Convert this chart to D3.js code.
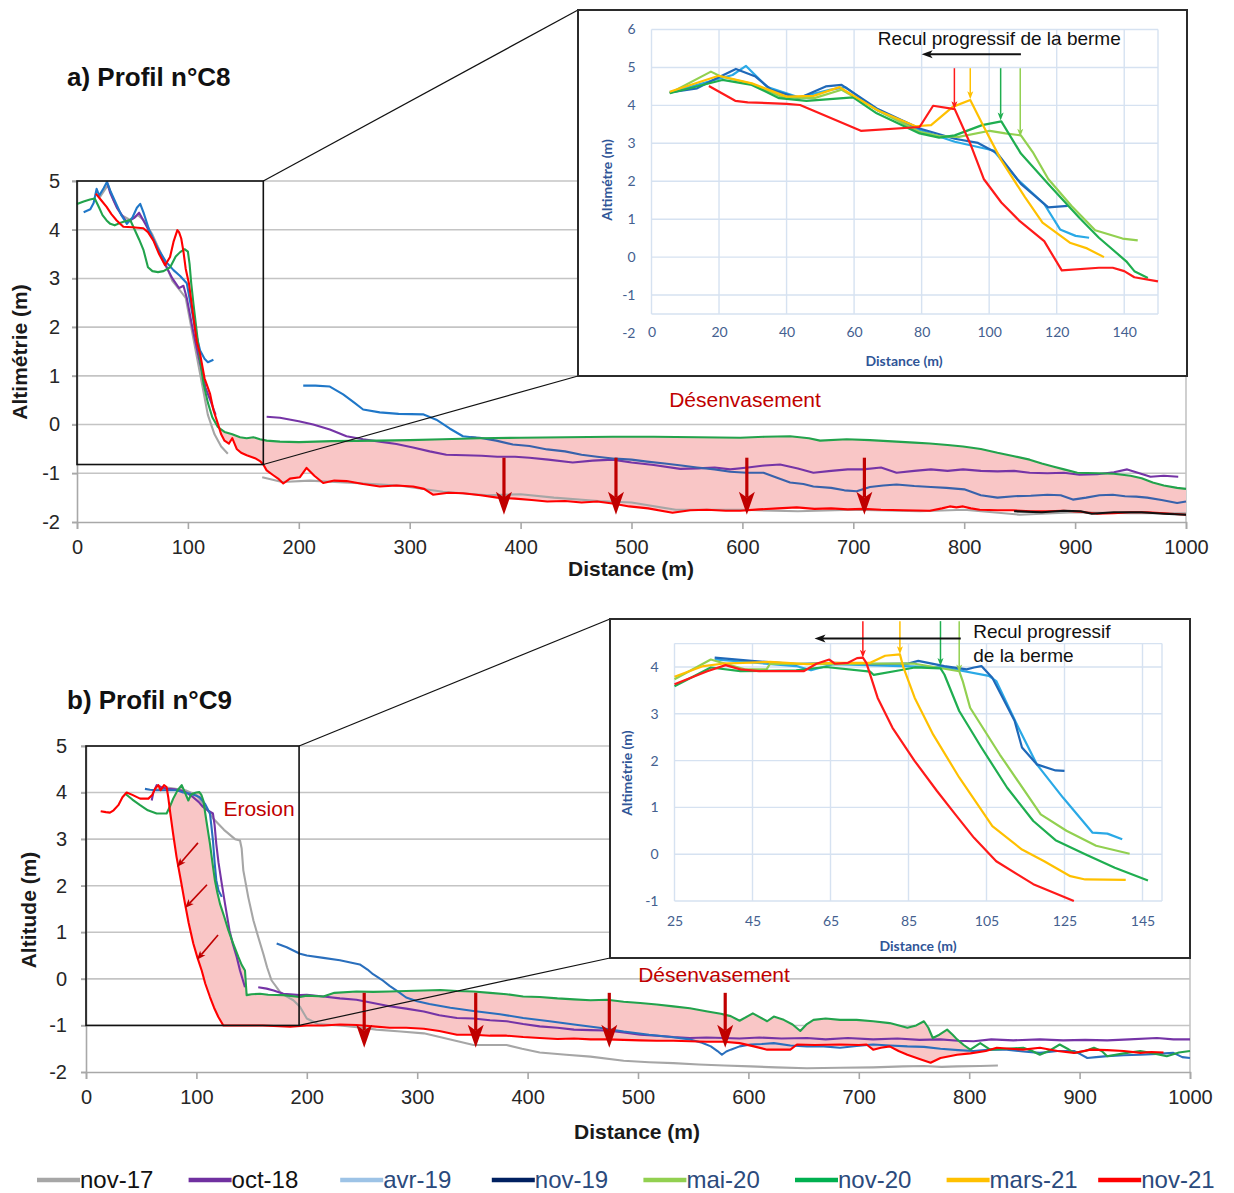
<!DOCTYPE html>
<html lang="fr">
<head>
<meta charset="UTF-8">
<title>Profils C8 et C9</title>
<style>
    body { margin: 0; background: #fff; }
    svg { display: block; font-family: "Liberation Sans", Arial, sans-serif; }
    .main-axis text { font-size: 20px; fill: #262626; }
    .inset-axis text { font-family: Lato, "Open Sans", sans-serif; font-size: 14px; fill: #44608f; }
    .axis-title { font-size: 21px; font-weight: bold; fill: #1a1a1a; }
    .inset-title { font-family: Lato, "Open Sans", sans-serif; font-size: 14px; font-weight: bold; fill: #2f5597; }
    .note { font-size: 21px; fill: #c00000; }
</style>
<script src="https://d3js.org/d3.v7.min.js"></script>
</head>
<body>
<script>
// ---------- Profil C8 : [distance (m), altitude (m)] ----------
const c8Gray = [[20,4.65],[28,4.92],[33,4.6],[40,4.3],[48,4.2],[55,4.3],[60,4.2],[68,3.9],[78,3.4],[86,2.95],[93,2.75],[98,2.6],[103,2.0],[108,1.4],[113,0.8],[118,0.2],[124,-0.2],[130,-0.45],[136,-0.6], null,
    [167,-1.08],[185,-1.18],[210,-1.15],[250,-1.2],[290,-1.25],[330,-1.38],[370,-1.45],[400,-1.43],[430,-1.5],[470,-1.57],[500,-1.6],[540,-1.75],[600,-1.75],[650,-1.78],[700,-1.75],[760,-1.78],[800,-1.75],[850,-1.85],[900,-1.8],[950,-1.82],[1000,-1.82]];
const c8Purple = [[27,4.98],[30,4.75],[36,4.45],[45,4.15],[52,4.25],[56,4.35],[62,4.1],[70,3.75],[78,3.35],[86,3.0],[92,2.8],[96,2.85],[99,2.6],[104,2.0],[110,1.35],[116,0.75],[121,0.45],[125,0.2], null,
    [171,0.16],[183,0.14],[200,0.07],[213,0.0],[228,-0.1],[243,-0.24],[258,-0.3],[273,-0.35],[288,-0.4],[303,-0.47],[318,-0.55],[333,-0.62],[350,-0.63],[365,-0.64],[379,-0.66],[395,-0.66],[408,-0.68],[425,-0.72],[447,-0.78],[465,-0.74],[483,-0.72],[500,-0.78],[520,-0.83],[544,-0.91],[560,-0.9],[575,-0.88],[589,-0.92],[605,-0.88],[620,-0.84],[634,-0.82],[650,-0.9],[664,-0.99],[680,-0.95],[695,-0.92],[709,-0.92],[725,-0.88],[739,-0.99],[755,-0.95],[770,-0.92],[785,-0.95],[799,-0.92],[815,-0.95],[830,-0.96],[845,-0.95],[859,-0.99],[875,-1.0],[890,-0.99],[904,-1.03],[920,-1.02],[935,-0.98],[947,-0.92],[958,-1.0],[968,-1.07],[980,-1.05],[993,-1.07]];
const c8Blue = [[6,4.36],[12,4.42],[15,4.55],[17.7,4.84],[20,4.7],[24,4.85],[27,4.98],[30,4.8],[35,4.55],[40,4.3],[45,4.12],[50,4.25],[54,4.45],[57,4.53],[60,4.35],[65,4.0],[72,3.65],[80,3.35],[87,3.17],[93,3.05],[99,2.9],[103,2.4],[107,1.9],[111,1.52],[115,1.35],[118,1.28],[123,1.33], null,
    [204,0.8],[215,0.8],[228,0.78],[240,0.62],[250,0.45],[258,0.31],[273,0.25],[290,0.22],[312,0.21],[324,0.1],[336,-0.08],[348,-0.24],[360,-0.27]];
const c8BlueDark = [[355,-0.26],[363,-0.27],[378,-0.33],[393,-0.41],[408,-0.44],[424,-0.51],[440,-0.55],[455,-0.62],[469,-0.66],[485,-0.7],[500,-0.72],[514,-0.76],[530,-0.8],[545,-0.84],[559,-0.88],[575,-0.92],[589,-0.97],[604,-0.99],[619,-0.99],[630,-1.08],[643,-1.19],[655,-1.22],[664,-1.27],[680,-1.3],[692,-1.35],[703,-1.37],[715,-1.28],[727,-1.25],[739,-1.23],[755,-1.26],[770,-1.28],[784,-1.3],[800,-1.33],[815,-1.45],[830,-1.5],[845,-1.47],[860,-1.46],[875,-1.44],[887,-1.45],[898,-1.54],[910,-1.5],[922,-1.45],[934,-1.44],[945,-1.47],[955,-1.48],[965,-1.5],[978,-1.55],[992,-1.61],[1000,-1.58]];
const c8Green = [[0,4.53],[6,4.58],[11.7,4.62],[16,4.64],[20,4.45],[23,4.3],[26.7,4.19],[30,4.12],[34,4.09],[40,4.15],[44,4.18],[48,4.2],[52,4.0],[56,3.8],[60,3.58],[64,3.23],[68,3.15],[73,3.13],[78,3.15],[84,3.23],[89,3.45],[93,3.54],[97,3.6],[100,3.55],[101.5,3.3],[103,2.9],[105,2.48],[108,1.9],[111,1.32],[114,0.85],[118,0.45],[122,0.15],[127,-0.05],[133,-0.15],[140,-0.2],[147,-0.26],[153,-0.28],[159,-0.26],[165,-0.3],[171,-0.33],[183,-0.35],[200,-0.36],[230,-0.34],[273,-0.33],[300,-0.32],[330,-0.3],[363,-0.28],[400,-0.27],[440,-0.26],[483,-0.25],[520,-0.25],[560,-0.26],[598,-0.27],[620,-0.25],[643,-0.24],[660,-0.28],[670,-0.33],[694,-0.3],[715,-0.32],[739,-0.35],[755,-0.37],[769,-0.39],[785,-0.42],[799,-0.45],[815,-0.5],[830,-0.58],[845,-0.65],[859,-0.72],[870,-0.8],[880,-0.86],[890,-0.92],[902,-0.99],[920,-1.0],[935,-1.01],[950,-1.05],[960,-1.1],[970,-1.19],[980,-1.25],[992,-1.3],[1000,-1.32]];
const c8Red = [[17,4.74],[22,4.6],[26.7,4.47],[31,4.32],[35.8,4.19],[41.8,4.06],[50,4.05],[59.8,4.03],[64,3.95],[68.8,3.78],[74,3.5],[79.4,3.27],[83.9,3.44],[87,3.75],[90.5,3.99],[92,3.95],[94,3.82],[96,3.55],[98,3.2],[101,2.89],[105,2.2],[108,1.7],[111,1.45],[115,0.95],[120,0.63],[123,0.3],[127,0.02],[130,-0.2],[133,-0.33],[137,-0.39],[140,-0.28],[144,-0.5],[148,-0.58],[153,-0.63],[160.5,-0.69],[165,-0.75],[168,-0.82],[171,-0.94],[177,-1.04],[182,-1.12],[186,-1.21],[192,-1.11],[201,-1.08],[207,-0.89],[214,-1.05],[222,-1.2],[232,-1.15],[243,-1.16],[258,-1.22],[273,-1.27],[288,-1.25],[303,-1.27],[313,-1.32],[321,-1.44],[335,-1.4],[348,-1.41],[364,-1.45],[379,-1.5],[395,-1.52],[410,-1.55],[424,-1.58],[440,-1.57],[455,-1.6],[469,-1.58],[483,-1.62],[498,-1.68],[515,-1.72],[537,-1.81],[553,-1.76],[568,-1.75],[585,-1.77],[598,-1.77],[615,-1.74],[632,-1.72],[649,-1.7],[665,-1.73],[680,-1.72],[695,-1.74],[709,-1.73],[725,-1.75],[745,-1.76],[769,-1.77],[780,-1.72],[787,-1.68],[793,-1.7],[799,-1.68],[806,-1.72],[814,-1.75],[830,-1.76],[844,-1.76],[860,-1.78],[875,-1.78],[889,-1.77],[905,-1.79],[920,-1.83],[935,-1.82],[950,-1.8],[965,-1.8],[980,-1.82],[1000,-1.85]];
const c8Black = [[845,-1.78],[870,-1.8],[890,-1.77],[905,-1.78],[915,-1.83],[935,-1.8],[960,-1.8],[980,-1.83],[1000,-1.85]];
const c8FillRange = [127, 1000];
const c8DownArrows = [385, 486, 604, 710];
const c8DownArrowSpan = [-0.68, -1.85];
const c8ZoomBox = [168, -0.82];

// ---------- Profil C8, zoom (inset) ----------
const c8iNov19 = [[5.4,4.34],[13.5,4.45],[19,4.7],[25,4.96],[30.8,4.76],[35.5,4.41],[43.6,4.19],[51.6,4.5],[56.3,4.54],[66.7,3.92],[79.4,3.39],[89.8,3.12],[96.7,3.01],[102.5,2.73],[109.4,1.93],[117.5,1.31],[123.3,1.35]];
const c8iAvr19 = [[5.4,4.34],[17,4.63],[24,4.8],[28,5.04],[34.3,4.48],[43.6,4.21],[52.8,4.41],[57.4,4.48],[66.7,3.88],[79.4,3.35],[89.8,3.04],[101.3,2.81],[108.3,2.06],[116.3,1.4],[121,0.73],[125.6,0.56],[129.6,0.51]];
const c8iMai20 = [[5.4,4.32],[17.6,4.89],[20.5,4.76],[29.7,4.57],[39,4.21],[48.2,4.19],[56.3,4.41],[67.8,3.83],[79.4,3.3],[85.2,3.19],[91,3.17],[100.2,3.33],[104.8,3.26],[109.4,3.21],[112.9,2.77],[117.5,2.06],[124.4,1.35],[131.4,0.71],[139.5,0.49],[144,0.44]];
const c8iNov20 = [[5.4,4.32],[21,4.67],[29.7,4.54],[37.8,4.19],[45.9,4.12],[59.7,4.21],[66.7,3.79],[79.4,3.26],[85.2,3.15],[89.8,3.21],[97.9,3.48],[103.6,3.58],[109.4,2.73],[117.5,1.93],[126.7,1.04],[132.5,0.51],[140.6,-0.11],[143,-0.37],[147,-0.55]];
const c8iMars21 = [[5.4,4.36],[19.9,4.78],[29.7,4.58],[40,4.23],[48,4.25],[55.7,4.48],[66.7,3.88],[78.2,3.45],[82.8,3.48],[89.2,3.96],[94.4,4.14],[97.9,3.52],[103.6,2.55],[110.6,1.58],[115.8,0.91],[123.9,0.38],[129,0.23],[134,0.0]];
const c8iNov21 = [[17,4.51],[24.8,4.12],[28.5,4.08],[40,4.04],[44,4.01],[62,3.33],[79.4,3.43],[83.4,3.99],[89.8,3.9],[94.4,2.99],[98.4,2.06],[103.6,1.44],[108.8,0.97],[116.3,0.42],[121.5,-0.35],[132.5,-0.28],[136.6,-0.28],[140,-0.37],[143,-0.53],[150,-0.64]];
const c8iBerme = [[89.7,3.9],[94.4,4.16],[103.4,3.6],[109.2,3.17]];

// ---------- Profil C9 ----------
const c9Gray = [[60,4.05],[75,4.1],[90,4.05],[100,3.95],[108,3.7],[115,3.45],[125,3.2],[135,3.0],[139.5,2.97],[141,2.8],[142.5,2.33],[147,1.75],[151.6,1.26],[156,0.9],[160.6,0.54],[164,0.25],[168,-0.03],[175.7,-0.28],[182,-0.38],[187.8,-0.46],[193.8,-0.6],[200,-0.85],[210,-0.97],[230,-1.0],[250,-1.05],[263,-1.09],[285,-1.13],[306,-1.17],[330,-1.3],[351,-1.42],[381,-1.42],[395,-1.5],[411,-1.58],[435,-1.63],[457,-1.67],[487,-1.76],[510,-1.79],[532,-1.81],[555,-1.84],[578,-1.86],[602,-1.88],[625,-1.9],[653,-1.92],[683,-1.91],[713,-1.9],[740,-1.88],[759,-1.87],[775,-1.89],[789,-1.88],[810,-1.87],[826,-1.86]];
const c9Purple = [[59.5,3.83],[61,4.0],[64,4.16],[68,4.12],[73,4.08],[80,4.07],[85,4.05],[91,4.0],[97,3.9],[102,3.8],[106,3.69],[110,3.62],[115,3.55],[116.5,3.3],[118,2.9],[120,2.5],[123,2.04],[126,1.6],[130,1.04],[133,0.75],[136.5,0.47],[139.5,0.18],[144,-0.18], null,
    [156,-0.18],[163.6,-0.21],[170,-0.25],[178.7,-0.32],[193.8,-0.35],[200,-0.34],[215,-0.38],[230,-0.42],[245,-0.45],[260,-0.52],[275,-0.59],[290,-0.64],[306,-0.7],[320,-0.78],[336,-0.84],[351,-0.85],[366,-0.89],[381,-0.91],[396,-0.97],[411,-1.02],[427,-1.05],[442,-1.09],[457,-1.1],[472,-1.11],[487,-1.15],[502,-1.2],[517,-1.22],[532,-1.25],[547,-1.27],[562,-1.26],[578,-1.27],[592,-1.28],[610,-1.26],[630,-1.28],[653,-1.27],[670,-1.3],[690,-1.27],[713,-1.3],[735,-1.28],[755,-1.31],[774,-1.3],[790,-1.33],[804,-1.34],[820,-1.3],[840,-1.32],[864,-1.3],[885,-1.32],[905,-1.31],[925,-1.32],[945,-1.3],[970,-1.27],[985,-1.3],[1000,-1.3]];
const c9Blue = [[53.4,4.08],[58,4.06],[64,4.05],[72,4.05],[82,4.05],[88,4.0],[94,3.98],[100,3.93],[103,3.9],[108,3.75],[112.3,3.55],[113.5,3.3],[115,2.97],[116.5,2.5],[118,2.12],[120,1.9],[123,1.76], null,
    [172.7,0.76],[181.8,0.68],[193.8,0.54],[200,0.5],[215,0.45],[230,0.4],[248,0.31],[255,0.2],[260,0.1],[268,-0.02],[275,-0.15],[283,-0.28],[290,-0.4],[300,-0.48],[311,-0.54],[330,-0.62],[351,-0.69],[375,-0.76],[396,-0.84],[420,-0.91],[442,-0.98],[465,-1.05],[487,-1.13],[510,-1.2],[530,-1.25],[547,-1.3],[558,-1.37],[566,-1.45],[572,-1.55],[576,-1.63],[580,-1.56],[584,-1.52],[592,-1.45],[602,-1.41],[612,-1.4],[623,-1.38],[638,-1.43],[653,-1.45],[668,-1.45],[683,-1.48],[698,-1.44],[713,-1.41],[728,-1.43],[744,-1.45],[759,-1.46],[774,-1.5],[790,-1.53],[804,-1.55],[819,-1.52],[834,-1.52],[849,-1.56],[864,-1.59],[880,-1.55],[895,-1.55],[901,-1.62],[907,-1.7],[915,-1.68],[925,-1.66],[940,-1.64],[955,-1.63],[970,-1.61],[985,-1.59],[993,-1.68],[1000,-1.7]];
const c9Green = [[35.3,3.98],[42,3.85],[49,3.73],[56,3.62],[64,3.55],[73,3.55],[76,3.7],[79,3.87],[83,4.05],[86.7,4.16],[90,3.98],[92.7,3.83],[95,3.95],[97,3.98],[100,4.0],[102.7,4.01],[104.5,3.95],[106.3,3.83],[109,3.4],[112.3,2.9],[114.5,2.5],[116.8,2.11],[119,1.85],[121.4,1.61],[125,1.35],[129,1.04],[133,0.78],[138,0.47],[141,0.3],[144,0.18],[145.5,-0.35],[150,-0.33],[157.6,-0.32],[165,-0.34],[178.7,-0.35],[193.8,-0.39],[200,-0.36],[215,-0.38],[225,-0.3],[245,-0.27],[260,-0.28],[275,-0.27],[290,-0.26],[306,-0.25],[321,-0.24],[336,-0.26],[351,-0.27],[366,-0.3],[381,-0.33],[396,-0.38],[411,-0.39],[427,-0.42],[442,-0.44],[457,-0.46],[472,-0.45],[487,-0.49],[502,-0.52],[517,-0.55],[532,-0.59],[547,-0.63],[563,-0.7],[575,-0.75],[584,-0.8],[592,-0.9],[604,-0.74],[617,-0.91],[623,-0.81],[632,-0.88],[640,-0.98],[647,-1.12],[653,-0.97],[659,-0.88],[670,-0.85],[683,-0.88],[698,-0.88],[713,-0.91],[728,-0.95],[744,-1.05],[752,-1.0],[759,-0.91],[763,-1.05],[767,-1.27],[773,-1.2],[780,-1.09],[785,-1.2],[789,-1.3],[795,-1.42],[801,-1.52],[810,-1.38],[819,-1.52],[834,-1.5],[849,-1.48],[857,-1.55],[864,-1.63],[872,-1.55],[882,-1.41],[889,-1.5],[895,-1.59],[905,-1.55],[913,-1.48],[920,-1.55],[925,-1.66],[940,-1.6],[955,-1.55],[967,-1.6],[979,-1.66],[990,-1.58],[1000,-1.55]];
const c9Red = [[13.3,3.6],[18,3.58],[21.7,3.57],[25,3.62],[29.3,3.73],[33,3.9],[36.8,4.0],[42,3.95],[49,3.87],[56.5,3.87],[60,3.95],[62.5,4.08],[65.5,4.16],[67.6,4.05],[70.7,4.16],[73,4.12],[74.5,3.9],[76,3.62],[79,3.1],[82,2.62],[86,2.1],[89.7,1.61],[93,1.2],[97.2,0.76],[101,0.45],[104.8,0.18],[108,-0.1],[112.3,-0.39],[116,-0.62],[119.9,-0.82],[124.4,-1.0],[140,-1.0],[160,-1.0],[185,-1.03],[200,-1.0],[215,-1.0],[230,-0.98],[245,-0.99],[260,-1.02],[275,-1.05],[290,-1.05],[306,-1.07],[320,-1.12],[336,-1.2],[351,-1.2],[366,-1.22],[381,-1.22],[396,-1.25],[411,-1.27],[427,-1.29],[442,-1.28],[457,-1.3],[472,-1.3],[487,-1.31],[502,-1.32],[517,-1.33],[532,-1.33],[547,-1.34],[562,-1.35],[578,-1.35],[592,-1.38],[605,-1.45],[617,-1.52],[638,-1.52],[644,-1.41],[660,-1.42],[683,-1.41],[700,-1.42],[707,-1.41],[713,-1.52],[720,-1.48],[728,-1.45],[736,-1.55],[744,-1.63],[755,-1.72],[765,-1.8],[774,-1.7],[789,-1.63],[801,-1.6],[815,-1.55],[825,-1.48],[837,-1.5],[849,-1.52],[864,-1.48],[880,-1.55],[895,-1.59],[910,-1.52],[925,-1.53],[940,-1.55],[955,-1.59],[965,-1.57],[976,-1.58]];
const c9FillRange = [76, 801];
const c9DownArrows = [252, 353, 474, 579];
const c9DownArrowSpan = [-0.3, -1.48];
const c9ErosionArrows = [[[101.4,2.92],[82.4,2.4]], [[109.6,2.02],[89.7,1.52]], [[119.6,0.94],[100.5,0.41]]];
const c9ZoomBox = [193, -1.0];

// ---------- Profil C9, zoom (inset) ----------
const c9iNov19 = [[35.3,4.2],[44.8,4.13],[56.2,4.06],[65.7,4.09],[75.2,4.06],[84.7,4.07],[87.5,4.13],[94.2,4.02],[99.9,3.95],[101.8,3.99],[103.7,4.02],[106.5,3.77],[112.2,2.85],[114.1,2.28],[117.9,1.92],[122.7,1.79],[125,1.78]];
const c9iAvr19 = [[35.3,4.16],[56.2,4.02],[60,3.93],[65.7,4.06],[94.2,3.99],[105.6,3.81],[107.5,3.7],[113.2,2.7],[117.9,1.92],[124.6,1.21],[132.2,0.46],[136,0.44],[139.8,0.32]];
const c9iMai20 = [[25,3.74],[34.3,4.16],[43,3.95],[48.6,3.95],[49.5,4.07],[65.7,4.06],[75.2,4.07],[86.6,4.07],[98,3.91],[98.9,3.7],[100.8,3.13],[108.4,2.13],[118.9,0.85],[125.5,0.5],[133.1,0.18],[141.7,0.01]];
const c9iNov20 = [[25,3.59],[34.3,3.99],[41.9,3.91],[56.2,3.93],[63.8,4.0],[75.2,3.9],[76.1,3.83],[82.8,3.93],[86.6,3.99],[93.2,3.97],[94.2,3.84],[98,3.06],[103.7,2.28],[110.3,1.42],[117,0.71],[122.7,0.3],[130.3,0.0],[137.9,-0.29],[146.4,-0.56]];
const c9iMars21 = [[25,3.79],[32.4,4.02],[37.2,4.07],[49.5,4.11],[59,4.06],[65.7,4.09],[75.2,4.09],[79,4.24],[82.8,4.27],[83.7,3.99],[86.6,3.34],[91.3,2.56],[98,1.64],[106.5,0.6],[114.1,0.1],[119.8,-0.15],[126.5,-0.47],[130.3,-0.54],[140.7,-0.55]];
const c9iNov21 = [[25,3.63],[33.4,3.91],[38.1,4.04],[41.9,3.95],[46.7,3.91],[58.1,3.91],[61.4,4.07],[64.7,4.16],[66.1,4.07],[69.5,4.09],[71.8,4.19],[73.3,4.2],[74.2,4.09],[77.1,3.34],[80.9,2.7],[86.6,1.99],[92.3,1.35],[97,0.85],[101.8,0.35],[107.5,-0.15],[117,-0.64],[127.4,-1.0]];
const c9iBerme = [[73.3,4.2],[82.8,4.27],[93.2,4.02],[98,3.88]];

// ---------- ticks, legend ----------
const mainXTicks = d3.range(0, 1001, 100);
const mainYTicks = [5, 4, 3, 2, 1, 0, -1, -2];
const c8iXTicks = [0, 20, 40, 60, 80, 100, 120, 140];
const c8iYTicks = [6, 5, 4, 3, 2, 1, 0, -1, -2];
const c9iXTicks = [25, 45, 65, 85, 105, 125, 145];
const c9iYTicks = [4, 3, 2, 1, 0, -1];
const legendLabels = ["nov-17", "oct-18", "avr-19", "nov-19", "mai-20", "nov-20", "mars-21", "nov-21"];
const legendColors = ["#a6a6a6", "#7030a0", "#9dc3e6", "#002060", "#92d050", "#00b050", "#ffc000", "#ff0000"];

const COL = {
    gray: "#a6a6a6", purple: "#7534a6", blue: "#1f77c8", blueDark: "#3862ab", green: "#22a34c",
    red: "#ff0000", black: "#111", fill: "#f9c6c6", arrow: "#c00000",
    iBlue: "#1f68b8", iLightBlue: "#2aa9e6", iLightGreen: "#92d050", iGreen: "#1fae50", iYellow: "#ffc000", iRed: "#ff1a1a"
};

const svg = d3.select("body").append("svg").attr("width", 1234).attr("height", 1193);

const pathOf = (x, y) => d3.line().defined(d => d !== null).x(d => x(d[0])).y(d => y(d[1]));

function arrow(g, x0, y0, x1, y1, color, width, headL, headW) {
    const a = Math.atan2(y1 - y0, x1 - x0), c = Math.cos(a), s = Math.sin(a);
    const bx = x1 - headL * c, by = y1 - headL * s;
    const nx = bx + headL * 0.25 * c, ny = by + headL * 0.25 * s;
    g.append("line").attr("x1", x0).attr("y1", y0).attr("x2", nx).attr("y2", ny)
        .attr("stroke", color).attr("stroke-width", width);
    g.append("path")
        .attr("d", `M${x1},${y1}L${bx - s * headW / 2},${by + c * headW / 2}L${nx},${ny}L${bx + s * headW / 2},${by - c * headW / 2}Z`)
        .attr("fill", color);
}

function drawMain(p) {
    const {x, y} = p;
    const g = svg.append("g");

    g.append("g").selectAll("line").data(mainYTicks.filter(d => d > -2)).join("line")
        .attr("x1", x(0) - 5).attr("x2", x(1000)).attr("y1", d => y(d)).attr("y2", d => y(d))
        .attr("stroke", "#c4c4c4").attr("stroke-width", 1.6);
    g.append("line").attr("x1", x(1000)).attr("x2", x(1000)).attr("y1", y(5)).attr("y2", y(-2))
        .attr("stroke", "#c4c4c4").attr("stroke-width", 1.6);

    const ax = g.append("g").attr("class", "main-axis").attr("transform", `translate(0,${y(-2)})`)
        .call(d3.axisBottom(x).tickValues(mainXTicks).tickSize(7).tickPadding(11).tickFormat(d3.format("d")));
    ax.selectAll("line, path").attr("stroke", "#a8a8a8").attr("stroke-width", 1.6);
    const ay = g.append("g").attr("class", "main-axis").attr("transform", `translate(${x(0)},0)`)
        .call(d3.axisLeft(y).tickValues(mainYTicks).tickSize(5).tickPadding(p.yPad).tickFormat(d3.format("d")));
    ay.selectAll("line, path").attr("stroke", "#a8a8a8").attr("stroke-width", 1.6);
    ay.selectAll("text").text(d => String(d));

    // pink zone between the green profile and the last (red) profile
    const top = p.fillTop.filter(d => d && d[0] >= p.fillRange[0] && d[0] <= p.fillRange[1]);
    const bot = p.fillBottom.filter(d => d && d[0] >= p.fillRange[0] && d[0] <= p.fillRange[1]).reverse();
    g.append("path").attr("d", pathOf(x, y)(top.concat(bot)) + "Z").attr("fill", COL.fill);

    p.series.forEach(s => {
        g.append("path").attr("d", pathOf(x, y)(s.data)).attr("fill", "none")
            .attr("stroke", s.color).attr("stroke-width", 2.1).attr("stroke-linejoin", "round");
    });

    p.downArrows.forEach(d => arrow(g, x(d), y(p.arrowSpan[0]), x(d), y(p.arrowSpan[1]), COL.arrow, 3.2, 23, 16));
    (p.smallArrows || []).forEach(a => arrow(g, x(a[0][0]), y(a[0][1]), x(a[1][0]), y(a[1][1]), COL.arrow, 1.6, 9, 7));

    p.notes.forEach(n => g.append("text").attr("class", "note").attr("x", n.x).attr("y", n.y)
        .attr("text-anchor", "middle").attr("dy", "0.35em").text(n.text));

    svg.append("text").attr("x", 67).attr("y", p.titleY).attr("font-size", 26).attr("font-weight", "bold")
        .attr("fill", "#111").text(p.title);
    svg.append("text").attr("class", "axis-title").attr("text-anchor", "middle")
        .attr("transform", `translate(${p.yTitleX},${p.yTitleY}) rotate(-90)`).attr("dy", "0.35em").text(p.yTitle);
    svg.append("text").attr("class", "axis-title").attr("text-anchor", "middle")
        .attr("x", p.xTitleX).attr("y", p.xTitleY).attr("dy", "0.35em").text("Distance (m)");

    // zoom frame and connector lines to the inset
    const zx = x(p.zoom[0]), zy = y(p.zoom[1]);
    g.append("rect").attr("x", x(0)).attr("y", y(5)).attr("width", zx - x(0)).attr("height", zy - y(5))
        .attr("fill", "none").attr("stroke", "#111").attr("stroke-width", 1.6);
    g.append("line").attr("x1", zx).attr("y1", y(5)).attr("x2", p.inset.x0).attr("y2", p.inset.y0)
        .attr("stroke", "#111").attr("stroke-width", 1.2);
    g.append("line").attr("x1", zx).attr("y1", zy).attr("x2", p.inset.x0).attr("y2", p.inset.y1)
        .attr("stroke", "#111").attr("stroke-width", 1.2);
}

function drawInset(q) {
    const {x, y} = q;
    const g = svg.append("g");
    g.append("rect").attr("x", q.box.x0).attr("y", q.box.y0)
        .attr("width", q.box.x1 - q.box.x0).attr("height", q.box.y1 - q.box.y0)
        .attr("fill", "#fff").attr("stroke", "#2b2b2b").attr("stroke-width", 2);

    const [x0, x1] = x.domain();
    g.append("g").selectAll("line").data(q.hLines).join("line")
        .attr("x1", x(x0)).attr("x2", x(x1)).attr("y1", d => y(d)).attr("y2", d => y(d))
        .attr("stroke", "#d6e2f1").attr("stroke-width", 1.4);
    g.append("g").selectAll("line").data(q.xTicks.concat([x1])).join("line")
        .attr("x1", d => x(d)).attr("x2", d => x(d)).attr("y1", y(q.vSpan[0])).attr("y2", y(q.vSpan[1]))
        .attr("stroke", "#d6e2f1").attr("stroke-width", 1.4);

    const ax = g.append("g").attr("class", "inset-axis").attr("transform", `translate(0,${q.xLabelY})`)
        .call(d3.axisBottom(x).tickValues(q.xTicks).tickSize(0).tickPadding(0));
    ax.select(".domain").remove();
    const ay = g.append("g").attr("class", "inset-axis").attr("transform", `translate(${x(x0)},0)`)
        .call(d3.axisLeft(y).tickValues(q.yTicks).tickSize(0).tickPadding(q.yPad).tickFormat(d3.format("d")));
    ay.select(".domain").remove();
    ay.selectAll("text").text(d => String(d));

    q.series.forEach(s => {
        g.append("path").attr("d", pathOf(x, y)(s.data)).attr("fill", "none")
            .attr("stroke", s.color).attr("stroke-width", 2.2).attr("stroke-linejoin", "round");
    });

    q.berme.forEach((b, i) => arrow(g, x(b[0]), y(q.bermeTop), x(b[0]), y(b[1]), q.bermeColors[i], 1.5, 8, 6));
    arrow(g, x(q.recul[0]), y(q.recul[2]), x(q.recul[1]), y(q.recul[2]), "#111", 2, 11, 8);
    q.reculText.forEach(t => g.append("text").attr("x", x(t.x)).attr("y", y(t.y)).attr("dy", "0.35em")
        .attr("text-anchor", t.anchor).attr("font-size", 19).attr("fill", "#111").text(t.text));

    g.append("text").attr("class", "inset-title").attr("text-anchor", "middle")
        .attr("transform", `translate(${q.yTitle[0]},${q.yTitle[1]}) rotate(-90)`).attr("dy", "0.35em").text(q.yTitle[2]);
    g.append("text").attr("class", "inset-title").attr("text-anchor", "middle")
        .attr("x", q.xTitle[0]).attr("y", q.xTitle[1]).attr("dy", "0.35em").text("Distance (m)");
}

const insetA = {x0: 578, y0: 10, x1: 1187, y1: 376};
const insetB = {x0: 610, y0: 619, x1: 1190, y1: 958};

drawMain({
    x: d3.scaleLinear([0, 1000], [77, 1186]), y: d3.scaleLinear([-2, 5], [522, 181]), yPad: 12,
    series: [
        {data: c8Gray, color: COL.gray}, {data: c8Purple, color: COL.purple}, {data: c8Blue, color: COL.blue},
        {data: c8BlueDark, color: COL.blueDark}, {data: c8Green, color: COL.green}, {data: c8Red, color: COL.red},
        {data: c8Black, color: COL.black}
    ],
    fillTop: c8Green, fillBottom: c8Red, fillRange: c8FillRange,
    downArrows: c8DownArrows, arrowSpan: c8DownArrowSpan,
    notes: [{x: 745, y: 400, text: "Désenvasement"}],
    title: "a) Profil n°C8", titleY: 86,
    yTitle: "Altimétrie (m)", yTitleX: 20, yTitleY: 352, xTitleX: 631, xTitleY: 569,
    zoom: c8ZoomBox, inset: insetA
});

drawMain({
    x: d3.scaleLinear([0, 1000], [86, 1190]), y: d3.scaleLinear([-2, 5], [1072, 746]), yPad: 14,
    series: [
        {data: c9Gray, color: COL.gray}, {data: c9Purple, color: COL.purple}, {data: c9Blue, color: "#2a6fbd"},
        {data: c9Green, color: COL.green}, {data: c9Red, color: COL.red}
    ],
    fillTop: c9Green, fillBottom: c9Red, fillRange: c9FillRange,
    downArrows: c9DownArrows, arrowSpan: c9DownArrowSpan, smallArrows: c9ErosionArrows,
    notes: [{x: 714, y: 975, text: "Désenvasement"}, {x: 259, y: 809, text: "Erosion"}],
    title: "b) Profil n°C9", titleY: 709,
    yTitle: "Altitude (m)", yTitleX: 29, yTitleY: 910, xTitleX: 637, xTitleY: 1132,
    zoom: c9ZoomBox, inset: insetB
});

const insetColors = [COL.iLightBlue, COL.iBlue, COL.iLightGreen, COL.iGreen, COL.iYellow, COL.iRed];
const bermeColors = [COL.iRed, COL.iYellow, COL.iGreen, COL.iLightGreen];

drawInset({
    box: insetA, x: d3.scaleLinear([0, 150], [651.5, 1158]), y: d3.scaleLinear([-2, 6], [333, 29.5]),
    hLines: [6, 5, 4, 3, 2, 1, 0, -1, -1.5], vSpan: [6, -1.5], xTicks: c8iXTicks, yTicks: c8iYTicks,
    xLabelY: 327, yPad: 16,
    series: [c8iAvr19, c8iNov19, c8iMai20, c8iNov20, c8iMars21, c8iNov21].map((d, i) => ({data: d, color: insetColors[i]})),
    berme: c8iBerme, bermeColors: bermeColors, bermeTop: 4.98,
    recul: [109.4, 80, 5.35], reculText: [{x: 103, y: 5.76, anchor: "middle", text: "Recul progressif de la berme"}],
    yTitle: [607, 180, "Altimétre (m)"], xTitle: [904, 361]
});

drawInset({
    box: insetB, x: d3.scaleLinear([25, 150], [674.5, 1162]), y: d3.scaleLinear([-1, 4.5], [901, 643.6]),
    hLines: [4.5, 4, 3, 2, 1, 0, -1], vSpan: [4.5, -1], xTicks: c9iXTicks, yTicks: c9iYTicks,
    xLabelY: 916, yPad: 16,
    series: [c9iAvr19, c9iNov19, c9iMai20, c9iNov20, c9iMars21, c9iNov21].map((d, i) => ({data: d, color: insetColors[i]})),
    berme: c9iBerme, bermeColors: bermeColors, bermeTop: 4.98,
    recul: [98.4, 60.9, 4.61],
    reculText: [{x: 101.6, y: 4.77, anchor: "start", text: "Recul progressif"}, {x: 101.6, y: 4.24, anchor: "start", text: "de la berme"}],
    yTitle: [627, 773, "Altimétrie (m)"], xTitle: [918, 946]
});

// legend
const leg = svg.append("g").selectAll("g").data(legendLabels).join("g")
    .attr("transform", (d, i) => `translate(${37 + i * 151.6},1180)`);
leg.append("line").attr("x1", 0).attr("x2", 43).attr("stroke", (d, i) => legendColors[i]).attr("stroke-width", 4.5);
leg.append("text").attr("x", 43).attr("dy", "0.35em").attr("font-size", 24)
    .attr("fill", (d, i) => i < 2 ? "#111" : "#2b4a7c").text(d => d);
</script>
</body>
</html>
